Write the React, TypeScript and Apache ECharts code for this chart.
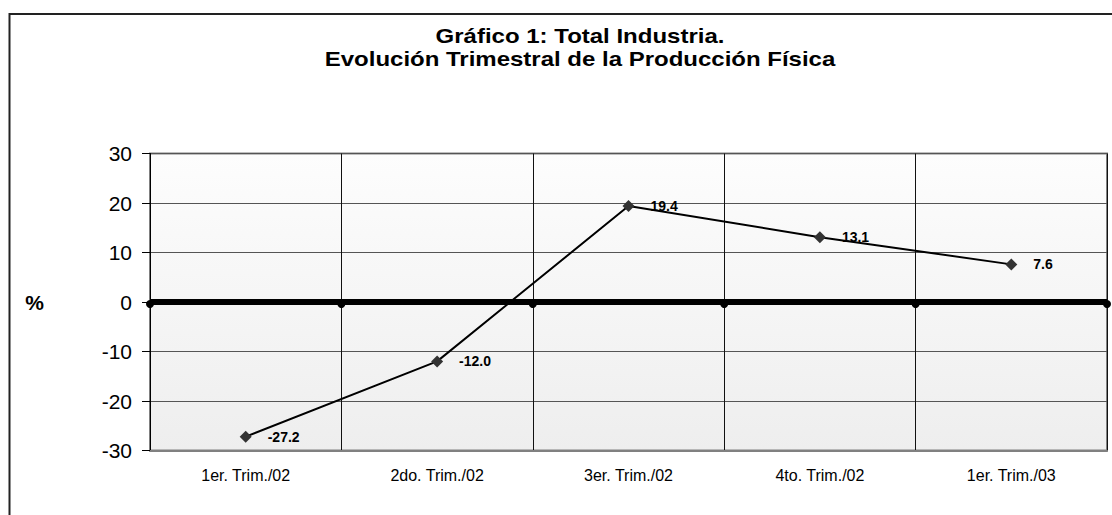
import React, { useEffect, useRef } from "react";
import * as echarts from "echarts";

const categories = ["1er. Trim./02", "2do. Trim./02", "3er. Trim./02", "4to. Trim./02", "1er. Trim./03"];
const values = [-27.2, -12.0, 19.4, 13.1, 7.6];
const zeroLine = [0, 0, 0, 0, 0, 0];
const zeroSlots = ["a", "b", "c", "d", "e", "f"];
const titleLine1 = "Gráfico 1: Total Industria.";
const titleLine2 = "Evolución Trimestral de la Producción Física";

const FONT = "'Liberation Sans', Arial, Helvetica, sans-serif";

export default function App() {
  const ref = useRef<HTMLDivElement>(null);
  useEffect(() => {
    if (!ref.current) return;
    const chart = echarts.init(ref.current, undefined, { renderer: "svg" });
    chart.setOption({
      animation: false,
      backgroundColor: "#ffffff",
      textStyle: { fontFamily: FONT },
      graphic: [
        {
          type: "rect",
          shape: { x: 9.5, y: 14, width: 1300, height: 700 },
          style: { fill: "none", stroke: "#222", lineWidth: 2 },
          silent: true,
          z: -1,
        },
        {
          type: "text",
          x: 580,
          y: 36,
          scaleX: 1.2,
          style: {
            text: titleLine1,
            align: "center",
            verticalAlign: "middle",
            fontFamily: FONT,
            fontSize: 20,
            fontWeight: "bold",
            fill: "#000",
          },
        },
        {
          type: "text",
          x: 580,
          y: 59,
          scaleX: 1.2,
          style: {
            text: titleLine2,
            align: "center",
            verticalAlign: "middle",
            fontFamily: FONT,
            fontSize: 20,
            fontWeight: "bold",
            fill: "#000",
          },
        },
      ],
      grid: {
        left: 150,
        top: 153.5,
        right: 5,
        bottom: 64.5,
        show: true,
        borderColor: "#808080",
        borderWidth: 2,
        backgroundColor: new echarts.graphic.LinearGradient(0, 0, 0, 1, [
          { offset: 0, color: "#fdfdfd" },
          { offset: 1, color: "#eeeeee" },
        ]),
      },
      xAxis: [
        {
          type: "category",
          data: categories,
          boundaryGap: true,
          axisLine: { show: true, onZero: false, lineStyle: { color: "#808080", width: 2 } },
          axisTick: { show: false },
          axisLabel: { fontSize: 16, color: "#000", margin: 17, fontFamily: FONT },
          splitLine: { show: true, lineStyle: { color: "#111", width: 1 } },
        },
        {
          type: "category",
          data: zeroSlots,
          boundaryGap: false,
          show: false,
          position: "bottom",
        },
      ],
      yAxis: {
        type: "value",
        min: -30,
        max: 30,
        interval: 10,
        name: "%",
        nameLocation: "middle",
        nameGap: 106,
        nameRotate: 0,
        nameTextStyle: { fontSize: 21, fontWeight: "bold", color: "#000", fontFamily: FONT },
        axisLine: { show: true, lineStyle: { color: "#000", width: 1 } },
        axisTick: { show: true, length: 8, inside: false, lineStyle: { color: "#000" } },
        axisLabel: { fontSize: 21, color: "#000", margin: 18, fontFamily: FONT },
        splitLine: { show: true, lineStyle: { color: "#555", width: 1 } },
      },
      series: [
        {
          type: "line",
          xAxisIndex: 1,
          data: zeroLine,
          lineStyle: { color: "#000", width: 6 },
          symbol: "circle",
          symbolSize: 8,
          symbolOffset: [0, 2],
          itemStyle: { color: "#000" },
          silent: true,
          z: 3,
        },
        {
          type: "line",
          data: values,
          lineStyle: { color: "#000", width: 2 },
          symbol: "diamond",
          symbolSize: 12,
          itemStyle: { color: "#333" },
          label: {
            show: true,
            position: "right",
            distance: 16,
            formatter: (p: any) => Number(p.value).toFixed(1),
            fontSize: 14,
            fontWeight: "bold",
            color: "#000",
            fontFamily: FONT,
          },
          z: 4,
        },
      ],
    });
    return () => chart.dispose();
  }, []);
  return <div ref={ref} style={{ position: "absolute", left: 0, top: 0, width: 1112, height: 515 }} />;
}
